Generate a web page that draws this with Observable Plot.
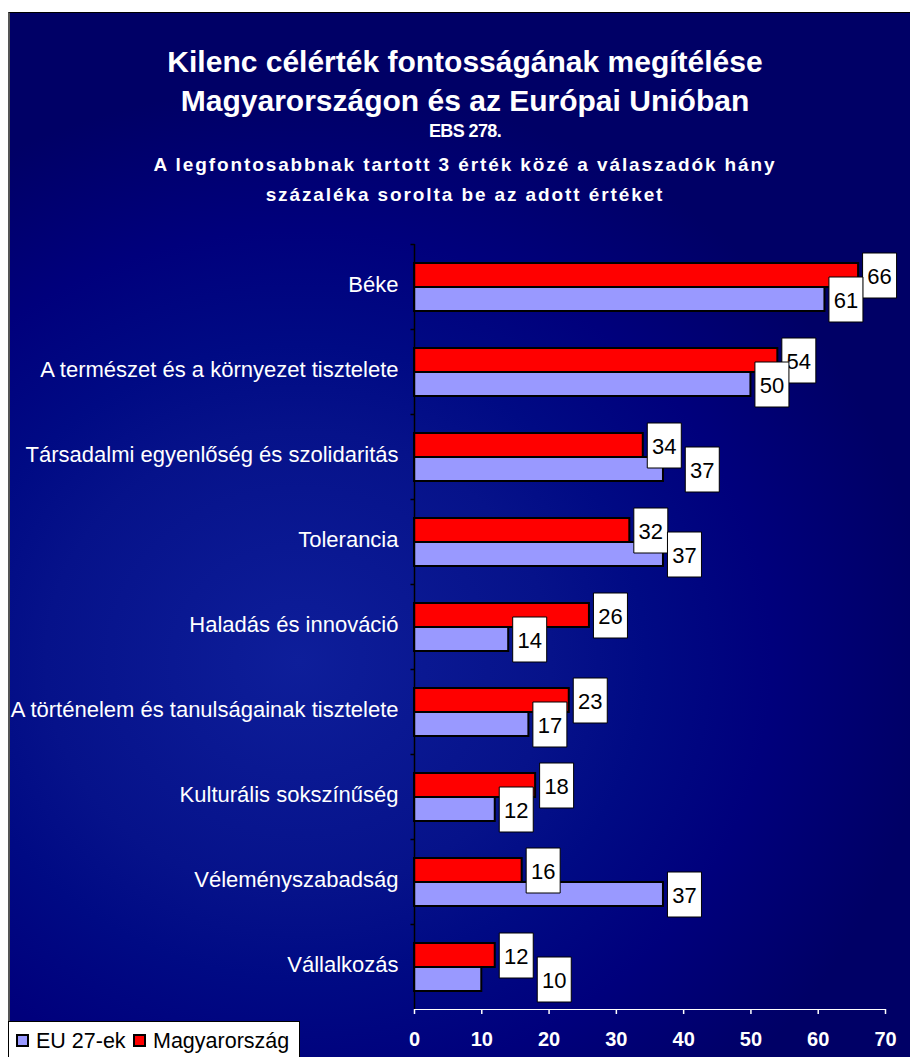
<!DOCTYPE html>
<html>
<head>
<meta charset="utf-8">
<script src="https://cdn.jsdelivr.net/npm/d3@7"></script>
<script src="https://cdn.jsdelivr.net/npm/@observablehq/plot@0.6"></script>
<style>
  html, body { margin: 0; padding: 0; background: #fff; }
  body { width: 910px; height: 1057px; position: relative; overflow: hidden; font-family: "Liberation Sans", Arial, sans-serif; }
  #bg { position: absolute; left: 8px; top: 12px; width: 904px; height: 1047px; box-sizing: border-box;
        border-top: 1px solid #000; border-left: 2px solid #555;
        background: radial-gradient(ellipse 70% 55% at 32% 62%, #0e1e9a 0%, #06128a 40%, #000a84 55%, #00007c 75%, #000066 100%); }
  .t { position: absolute; left: 20px; width: 890px; text-align: center; color: #fff; font-weight: bold; white-space: nowrap; }
  #chart { position: absolute; left: 0; top: 227px; }
  #legend { position: absolute; left: 8px; top: 1021px; width: 292px; height: 40px; background: #fff; border: 1px solid #000; box-sizing: border-box; font-size: 21.5px; color: #000; }
  #legend .item { position: absolute; top: 6px; line-height: 26px; white-space: nowrap; }
  #legend .sw { display: inline-block; width: 9px; height: 9px; border: 2px solid #000; vertical-align: middle; margin-right: 7px; position: relative; top: -2px; }
</style>
</head>
<body>
<div id="bg"></div>
<div class="t" style="top:45px;font-size:30px;line-height:34px;">Kilenc célérték fontosságának megítélése</div>
<div class="t" style="top:84px;font-size:30px;line-height:34px;">Magyarországon és az Európai Unióban</div>
<div class="t" style="top:120px;font-size:18px;line-height:22px;letter-spacing:-0.6px;">EBS 278.</div>
<div class="t" style="top:153px;font-size:19px;line-height:24px;letter-spacing:1.9px;">A legfontosabbnak tartott 3 érték közé a válaszadók hány</div>
<div class="t" style="top:183px;font-size:19px;line-height:24px;letter-spacing:1.9px;">százaléka sorolta be az adott értéket</div>
<div id="chart"></div>
<div id="legend"></div>
<script>
const categories = [
  "Béke",
  "A természet és a környezet tisztelete",
  "Társadalmi egyenlőség és szolidaritás",
  "Tolerancia",
  "Haladás és innováció",
  "A történelem és tanulságainak tisztelete",
  "Kulturális sokszínűség",
  "Véleményszabadság",
  "Vállalkozás"
];
const huValues = [66, 54, 34, 32, 26, 23, 18, 16, 12];
const euValues = [61, 50, 37, 37, 14, 17, 12, 37, 10];
const seriesNames = ["EU 27-ek", "Magyarország"];
const seriesColors = ["#9999ff", "#ff0000"];
const xTicks = [0, 10, 20, 30, 40, 50, 60, 70];

const HU = seriesNames[1], EU = seriesNames[0];
const data = [];
categories.forEach((c, i) => {
  data.push({category: c, series: HU, value: huValues[i], other: euValues[i]});
  data.push({category: c, series: EU, value: euValues[i], other: huValues[i]});
});

const W = 910, H = 830, mL = 414, mR = 25, mT = 16, mB = 48;
const xMax = 70;
const pxPerUnit = (W - mL - mR) / xMax;
const boxW = 34, boxH = 45, gap = 4;
const labelDx = gap + boxW / 2;

// collision handling for EU labels that would overlap the HU label box
const overlap = d => boxW - Math.abs(d.value - d.other) * pxPerUnit;
const huData = data.filter(d => d.series === HU);
const euNatural = data.filter(d => d.series === EU && overlap(d) <= 8);
const euShifted = data.filter(d => d.series === EU && overlap(d) > 8);

const boxSymbol = { draw(ctx) { ctx.rect(-boxW / 2, -boxH / 2, boxW, boxH); } };
const tickSymbol = { draw(ctx) { ctx.moveTo(-4, 0); ctx.lineTo(0, 0); } };

const labelMarks = (rows, xAcc, dx) => [
  Plot.dot(rows, {x: xAcc, y: "series", fy: "category", dx, symbol: boxSymbol, r: 5, fill: "#fff", stroke: "#000", strokeWidth: 1}),
  Plot.text(rows, {x: xAcc, y: "series", fy: "category", dx, dy: 1, text: d => String(d.value), fill: "#000", fontSize: 22, textAnchor: "middle"})
];

const chart = Plot.plot({
  width: W, height: H,
  marginLeft: mL, marginRight: mR, marginTop: mT, marginBottom: mB,
  style: { background: "transparent", color: "#fff", fontFamily: "'Liberation Sans', Arial, sans-serif", fontSize: "20px", overflow: "visible" },
  x: { domain: [0, xMax], ticks: xTicks, tickSize: 5, tickPadding: 17, line: true, label: null },
  y: { domain: [HU, EU], paddingInner: 0, paddingOuter: 0.74, axis: null },
  fy: { domain: categories, padding: 0, axis: null, label: null },
  facet: { marginTop: 0, marginBottom: 0, marginLeft: 0, marginRight: 0 },
  color: { domain: seriesNames, range: seriesColors },
  marks: [
    Plot.barX(data, {x: "value", y: "series", fy: "category", fill: "series", stroke: "#000", strokeWidth: 2}),
    Plot.ruleX([0], {stroke: "#000", strokeWidth: 1.5}),
    Plot.dot([0], {frameAnchor: "top-left", symbol: tickSymbol, r: 1, stroke: "#000", strokeWidth: 1.5}),
    Plot.text(categories, {fy: d => d, text: d => d, frameAnchor: "left", dx: -16, dy: -2, textAnchor: "end", fill: "#fff", fontSize: 22}),
    ...labelMarks(huData, "value", labelDx),
    ...labelMarks(euNatural, "value", labelDx),
    ...labelMarks(euShifted, "other", labelDx + boxW + gap)
  ]
});
document.getElementById("chart").appendChild(chart);

// axis styling: black ticks/line, white bold labels
chart.querySelectorAll('g[aria-label^="x-axis"]').forEach(g => {
  const lab = g.getAttribute("aria-label");
  if (lab.includes("label")) { g.setAttribute("font-weight", "bold"); g.setAttribute("fill", "#fff"); g.setAttribute("font-size", "20"); }
  else { g.setAttribute("stroke", "#000"); g.setAttribute("stroke-width", "1.5"); }
});

// legend (HTML, below the svg area)
const legend = document.getElementById("legend");
const legendLefts = [7, 124];
seriesNames.forEach((s, i) => {
  const it = document.createElement("div");
  it.className = "item";
  it.style.left = legendLefts[i] + "px";
  it.innerHTML = `<span class="sw" style="background:${seriesColors[i]}"></span>${s}`;
  legend.appendChild(it);
});
</script>
</body>
</html>
